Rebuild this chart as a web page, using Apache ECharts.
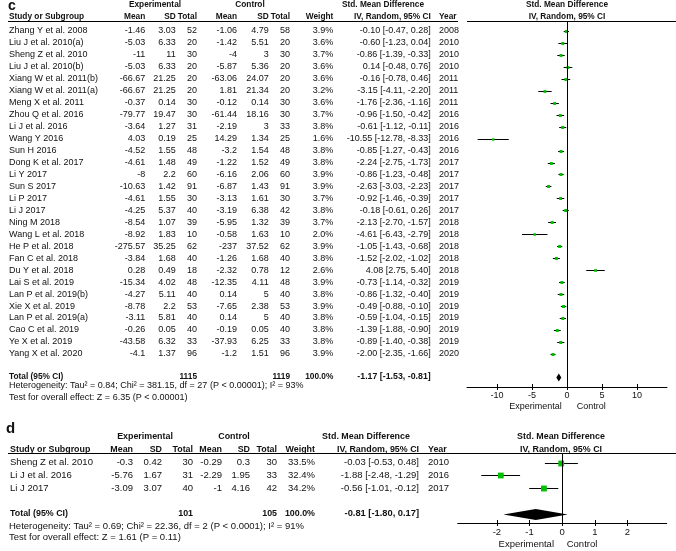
<!DOCTYPE html>
<html><head><meta charset="utf-8">
<script src="https://cdn.jsdelivr.net/npm/echarts@6/dist/echarts.min.js"></script>
<style>html,body{margin:0;padding:0;background:#fff}#chart{width:676px;height:551px}</style>
</head><body><div id="chart"></div>
<script>
// ---------- Panel c data ----------
const cStudy = ["Zhang Y et al. 2008","Liu J et al. 2010(a)","Sheng Z et al. 2010","Liu J et al. 2010(b)","Xiang W et al. 2011(b)","Xiang W et al. 2011(a)","Meng X et al. 2011","Zhou Q et al. 2016","Li J et al. 2016","Wang Y 2016","Sun H 2016","Dong K et al. 2017","Li Y 2017","Sun S 2017","Li P 2017","Li J 2017","Ning M 2018","Wang L et al. 2018","He P et al. 2018","Fan C et al. 2018","Du Y et al. 2018","Lai S et al. 2019","Lan P et al. 2019(b)","Xie X et al. 2019","Lan P et al. 2019(a)","Cao C et al. 2019","Ye X et al. 2019","Yang X et al. 2020"];
const cExpMean = [-1.46,-5.03,-11,-5.03,-66.67,-66.67,-0.37,-79.77,-3.64,4.03,-4.52,-4.61,-8,-10.63,-4.61,-4.25,-8.54,-8.92,-275.57,-3.84,0.28,-15.34,-4.27,-8.78,-3.11,-0.26,-43.58,-4.1];
const cExpSD = [3.03,6.33,11,6.33,21.25,21.25,0.14,19.47,1.27,0.19,1.55,1.48,2.2,1.42,1.55,5.37,1.07,1.83,35.25,1.68,0.49,4.02,5.11,2.2,5.81,0.05,6.32,1.37];
const cExpN = [52,20,30,20,20,20,30,30,31,25,48,49,60,91,30,40,39,10,62,40,18,48,40,53,40,40,33,96];
const cCtrlMean = [-1.06,-1.42,-4,-5.87,-63.06,1.81,-0.12,-61.44,-2.19,14.29,-3.2,-1.22,-6.16,-6.87,-3.13,-3.19,-5.95,-0.58,-237,-1.26,-2.32,-12.35,0.14,-7.65,0.14,-0.19,-37.93,-1.2];
const cCtrlSD = [4.79,5.51,3,5.36,24.07,21.34,0.14,18.16,3,1.34,1.54,1.52,2.06,1.43,1.61,6.38,1.32,1.63,37.52,1.68,0.78,4.11,5,2.38,5,0.05,6.25,1.51];
const cCtrlN = [58,20,30,20,20,20,30,30,33,25,48,49,60,91,30,42,39,10,62,40,12,48,40,53,40,40,33,96];
const cWeight = [3.9,3.6,3.7,3.6,3.6,3.2,3.6,3.7,3.8,1.6,3.8,3.8,3.9,3.9,3.7,3.8,3.7,2.0,3.9,3.8,2.6,3.9,3.8,3.9,3.8,3.8,3.8,3.9];
const cSMD = [-0.10,-0.60,-0.86,0.14,-0.16,-3.15,-1.76,-0.96,-0.61,-10.55,-0.85,-2.24,-0.86,-2.63,-0.92,-0.18,-2.13,-4.61,-1.05,-1.52,4.08,-0.73,-0.86,-0.49,-0.59,-1.39,-0.89,-2.00];
const cLow = [-0.47,-1.23,-1.39,-0.48,-0.78,-4.11,-2.36,-1.50,-1.12,-12.78,-1.27,-2.75,-1.23,-3.03,-1.46,-0.61,-2.70,-6.43,-1.43,-2.02,2.75,-1.14,-1.32,-0.88,-1.04,-1.88,-1.40,-2.35];
const cHigh = [0.28,0.04,-0.33,0.76,0.46,-2.20,-1.16,-0.42,-0.11,-8.33,-0.43,-1.73,-0.48,-2.23,-0.39,0.26,-1.57,-2.79,-0.68,-1.02,5.40,-0.32,-0.40,-0.10,-0.15,-0.90,-0.38,-1.66];
const cYear = [2008,2010,2010,2010,2011,2011,2011,2016,2016,2016,2016,2017,2017,2017,2017,2017,2018,2018,2018,2018,2018,2019,2019,2019,2019,2019,2019,2020];
const cTotalN = [1115, 1119];
const cPooled = [-1.17, -1.53, -0.81];
const cTicks = [-10, -5, 0, 5, 10];
const cHet = "Heterogeneity: Tau\u00b2 = 0.84; Chi\u00b2 = 381.15, df = 27 (P < 0.00001); I\u00b2 = 93%";
const cTest = "Test for overall effect: Z = 6.35 (P < 0.00001)";

// ---------- Panel d data ----------
const dStudy = ["Sheng Z et al. 2010","Li J et al. 2016","Li J 2017"];
const dExpMean = [-0.3,-5.76,-3.09];
const dExpSD = [0.42,1.67,3.07];
const dExpN = [30,31,40];
const dCtrlMean = [-0.29,-2.29,-1];
const dCtrlSD = [0.3,1.95,4.16];
const dCtrlN = [30,33,42];
const dWeight = [33.5,32.4,34.2];
const dSMD = [-0.03,-1.88,-0.56];
const dLow = [-0.53,-2.48,-1.01];
const dHigh = [0.48,-1.29,-0.12];
const dYear = [2010,2016,2017];
const dTotalN = [101, 105];
const dPooled = [-0.81, -1.80, 0.17];
const dTicks = [-2, -1, 0, 1, 2];
const dHet = "Heterogeneity: Tau\u00b2 = 0.69; Chi\u00b2 = 22.36, df = 2 (P < 0.0001); I\u00b2 = 91%";
const dTest = "Test for overall effect: Z = 1.61 (P = 0.11)";

const FAM = '"Liberation Sans", Arial, Helvetica, sans-serif';
const INK = '#111';

function fmtCI(m, l, h) { return m.toFixed(2) + ' [' + l.toFixed(2) + ', ' + h.toFixed(2) + ']'; }

function txt(x, y, s, align, size, bold) {
  return { type: 'text', silent: true, style: {
    x: x, y: y, text: String(s), align: align, verticalAlign: 'middle',
    textAlign: align, textVerticalAlign: 'middle',
    font: (bold ? 'bold ' : '') + size + 'px ' + FAM, fill: INK } };
}

function tableSeries(axisIdx, P, cols, size, bsize, totalRow) {
  const n = P.study.length;
  const data = [];
  for (let i = 0; i < n; i++) data.push([0, i]);
  data.push([0, totalRow]);
  return {
    type: 'custom', xAxisIndex: axisIdx, yAxisIndex: axisIdx, clip: false, silent: true, z: 5,
    encode: { x: 0, y: 1 }, data: data,
    renderItem: function (params, api) {
      const i = params.dataIndex;
      const y = api.coord([0, api.value(1)])[1];
      if (i < n) {
        return { type: 'group', children: [
          txt(cols.name, y, P.study[i], 'left', size),
          txt(cols.expMean, y, P.expMean[i], 'right', size),
          txt(cols.expSD, y, P.expSD[i], 'right', size),
          txt(cols.expN, y, P.expN[i], 'right', size),
          txt(cols.ctrlMean, y, P.ctrlMean[i], 'right', size),
          txt(cols.ctrlSD, y, P.ctrlSD[i], 'right', size),
          txt(cols.ctrlN, y, P.ctrlN[i], 'right', size),
          txt(cols.weight, y, P.weight[i].toFixed(1) + '%', 'right', size),
          txt(cols.ci, y, fmtCI(P.smd[i], P.low[i], P.high[i]), 'right', size),
          txt(cols.year, y, P.year[i], 'left', size)
        ]};
      }
      return { type: 'group', children: [
        txt(cols.name, y, 'Total (95% CI)', 'left', bsize, true),
        txt(cols.expN, y, P.totalN[0], 'right', bsize, true),
        txt(cols.ctrlN, y, P.totalN[1], 'right', bsize, true),
        txt(cols.weight, y, '100.0%', 'right', bsize, true),
        txt(cols.ci, y, fmtCI(P.pooled[0], P.pooled[1], P.pooled[2]), 'right', size - 0.2, true)
      ]};
    }
  };
}

function forestSeries(axisIdx, P, totalRow, k, dh) {
  const data = [];
  for (let i = 0; i < P.study.length; i++) data.push([P.low[i], P.high[i], P.smd[i], i, P.weight[i]]);
  data.push([P.pooled[1], P.pooled[2], P.pooled[0], totalRow, -1]);
  return {
    type: 'custom', xAxisIndex: axisIdx, yAxisIndex: axisIdx, clip: false, silent: true, z: 4,
    encode: { x: [0, 1, 2], y: 3 }, data: data,
    renderItem: function (params, api) {
      const row = api.value(3);
      const lo = api.coord([api.value(0), row]);
      const hi = api.coord([api.value(1), row]);
      const c = api.coord([api.value(2), row]);
      const w = api.value(4);
      const yy = Math.round(c[1]) + 0.5;
      if (w >= 0) {
        const s = 1.5 + Math.sqrt(w) * k;
        return { type: 'group', children: [
          { type: 'line', shape: { x1: lo[0], y1: yy, x2: hi[0], y2: yy }, style: { stroke: '#000', lineWidth: 1 } },
          { type: 'rect', shape: { x: c[0] - s / 2, y: yy - s / 2, width: s, height: s }, style: { fill: '#00c000' } }
        ]};
      }
      return { type: 'polygon', shape: { points: [[lo[0], yy], [c[0], yy - dh], [hi[0], yy], [c[0], yy + dh]] }, style: { fill: '#000' } };
    },
    markLine: { silent: true, symbol: ['none', 'none'], animation: false, label: { show: false },
      lineStyle: { color: '#000', width: 1, type: 'solid' }, emphasis: { disabled: true }, data: [{ xAxis: 0 }] }
  };
}

const C = { study: cStudy, expMean: cExpMean, expSD: cExpSD, expN: cExpN, ctrlMean: cCtrlMean, ctrlSD: cCtrlSD, ctrlN: cCtrlN, weight: cWeight, smd: cSMD, low: cLow, high: cHigh, year: cYear, totalN: cTotalN, pooled: cPooled };
const D = { study: dStudy, expMean: dExpMean, expSD: dExpSD, expN: dExpN, ctrlMean: dCtrlMean, ctrlSD: dCtrlSD, ctrlN: dCtrlN, weight: dWeight, smd: dSMD, low: dLow, high: dHigh, year: dYear, totalN: dTotalN, pooled: dPooled };

const cCols = { name: 9, expMean: 145.3, expSD: 175.7, expN: 197, ctrlMean: 237, ctrlSD: 268.7, ctrlN: 290, weight: 333.3, ci: 430.7, year: 439 };
const dCols = { name: 10, expMean: 133, expSD: 162, expN: 193, ctrlMean: 222, ctrlSD: 250, ctrlN: 277, weight: 315, ci: 419, year: 428 };

function xAxes(grid, lim, ticks, size, margin) {
  return [
    { type: 'value', gridIndex: grid, position: 'bottom', min: -lim, max: lim,
      axisLine: { show: true, onZero: false, lineStyle: { color: '#000', width: 1 } },
      axisTick: { show: true, inside: false, length: 3, customValues: ticks, lineStyle: { color: '#000' } },
      axisLabel: { show: true, customValues: ticks, margin: margin, fontSize: size, fontFamily: FAM, color: INK },
      splitLine: { show: false } },
    { type: 'value', gridIndex: grid, position: 'bottom', min: -lim, max: lim,
      axisLine: { show: false, onZero: false },
      axisTick: { show: true, inside: true, length: 3, customValues: ticks, lineStyle: { color: '#000' } },
      axisLabel: { show: false }, splitLine: { show: false } }
  ];
}

const hline = (x1, x2, y) => ({ type: 'line', silent: true, shape: { x1: x1, y1: y, x2: x2, y2: y }, style: { stroke: '#000', lineWidth: 1 } });

const HC = 8.3;  // bold header size panel c
const HD = 8.9;  // bold header size panel d
const graphics = [
  // panel c headers
  txt(8, 6, 'c', 'left', 14, true),
  txt(155, 5, 'Experimental', 'center', HC, true),
  txt(250, 5, 'Control', 'center', HC, true),
  txt(383, 5, 'Std. Mean Difference', 'center', HC, true),
  txt(567, 5, 'Std. Mean Difference', 'center', HC, true),
  txt(9, 16.7, 'Study or Subgroup', 'left', HC, true),
  txt(145.3, 16.7, 'Mean', 'right', HC, true),
  txt(175.7, 16.7, 'SD', 'right', HC, true),
  txt(197, 16.7, 'Total', 'right', HC, true),
  txt(237, 16.7, 'Mean', 'right', HC, true),
  txt(268.7, 16.7, 'SD', 'right', HC, true),
  txt(290, 16.7, 'Total', 'right', HC, true),
  txt(333.3, 16.7, 'Weight', 'right', HC, true),
  txt(430.7, 16.7, 'IV, Random, 95% CI', 'right', HC, true),
  txt(439, 16.7, 'Year', 'left', HC, true),
  txt(567, 16.7, 'IV, Random, 95% CI', 'center', HC, true),
  hline(8, 458, 21.5), hline(467, 676, 21.5),
  txt(9, 385.7, cHet, 'left', 9),
  txt(9, 397.7, cTest, 'left', 9),
  txt(561.7, 407, 'Experimental', 'right', 9),
  txt(576.7, 407, 'Control', 'left', 9),
  // panel d headers
  txt(6, 429, 'd', 'left', 15, true),
  txt(145, 437, 'Experimental', 'center', HD, true),
  txt(234, 437, 'Control', 'center', HD, true),
  txt(366, 437, 'Std. Mean Difference', 'center', HD, true),
  txt(561, 437, 'Std. Mean Difference', 'center', HD, true),
  txt(10, 450, 'Study or Subgroup', 'left', HD, true),
  txt(133, 450, 'Mean', 'right', HD, true),
  txt(162, 450, 'SD', 'right', HD, true),
  txt(193, 450, 'Total', 'right', HD, true),
  txt(222, 450, 'Mean', 'right', HD, true),
  txt(250, 450, 'SD', 'right', HD, true),
  txt(277, 450, 'Total', 'right', HD, true),
  txt(315, 450, 'Weight', 'right', HD, true),
  txt(419, 450, 'IV, Random, 95% CI', 'right', HD, true),
  txt(428, 450, 'Year', 'left', HD, true),
  txt(561, 450, 'IV, Random, 95% CI', 'center', HD, true),
  hline(8, 676, 453.5),
  txt(9, 526, dHet, 'left', 9.5),
  txt(9, 537.7, dTest, 'left', 9.5),
  txt(554, 544, 'Experimental', 'right', 9.5),
  txt(566.7, 544, 'Control', 'left', 9.5)
];

const chart = echarts.init(document.getElementById('chart'), null, { renderer: 'canvas' });
chart.setOption({
  animation: false,
  backgroundColor: '#fff',
  grid: [
    { left: 467, width: 200, top: 21, height: 366, containLabel: false },
    { left: 457.7, width: 209, top: 453, height: 70, containLabel: false }
  ],
  xAxis: xAxes(0, 14.3, cTicks, 9, 4).concat(xAxes(1, 3.2, dTicks, 9.5, 4)),
  yAxis: [
    { type: 'value', gridIndex: 0, inverse: true, min: -0.836, max: 29.77, show: false },
    { type: 'value', gridIndex: 1, inverse: true, min: -0.764, max: 4.748, show: false }
  ],
  series: [
    Object.assign(tableSeries(0, C, cCols, 9, HC, 28.9), { xAxisIndex: 0, yAxisIndex: 0 }),
    Object.assign(forestSeries(0, C, 28.9, 0.75, 4), { xAxisIndex: 0, yAxisIndex: 0 }),
    Object.assign(tableSeries(2, D, dCols, 9.5, HD, 4), { xAxisIndex: 2, yAxisIndex: 1 }),
    Object.assign(forestSeries(2, D, 4, 0.75, 5.5), { xAxisIndex: 2, yAxisIndex: 1 })
  ],
  graphic: { elements: graphics }
});
</script>
</body></html>
